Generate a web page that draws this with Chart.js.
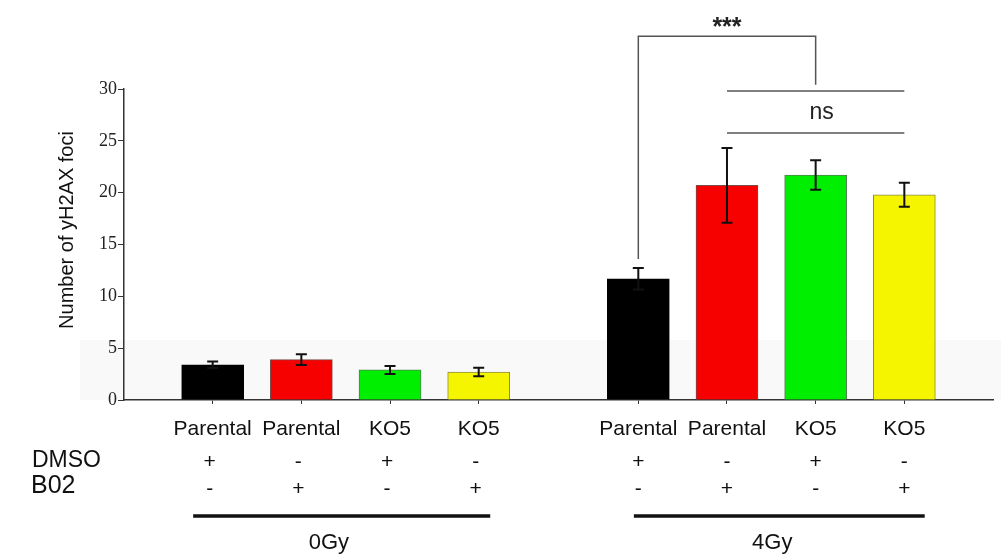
<!DOCTYPE html>
<html>
<head>
<meta charset="utf-8">
<script src="https://cdn.jsdelivr.net/npm/chart.js@4/dist/chart.umd.min.js"></script>
<style>
  html, body { margin: 0; padding: 0; background: #fff; }
  #wrap { width: 1001px; height: 557px; }
</style>
</head>
<body>
<div id="wrap"><canvas id="chart" width="1001" height="557"></canvas></div>
<script>
// ---- data -------------------------------------------------------------
const cellLines = ['Parental', 'Parental', 'KO5', 'KO5'];
const dmsoRow   = ['+', '-', '+', '-'];
const b02Row    = ['-', '+', '-', '+'];
const doses     = ['0Gy', '4Gy'];

// mean number of γH2AX foci and error, one value per bar
const foci0Gy = [3.4, 3.9, 2.9, 2.7];
const err0Gy  = [0.32, 0.52, 0.38, 0.41];
const foci4Gy = [11.7, 20.7, 21.7, 19.8];
const err4Gy  = [1.03, 3.6, 1.42, 1.16];

const yTickValues = [0, 5, 10, 15, 20, 25, 30];

// significance marks: bar indices (across both dose groups) and label
const sigStars = { from: 4, to: 6, label: '***' };
const sigNs    = { from: 5, to: 7, label: 'ns' };

// ---- styling / layout -------------------------------------------------
const barFill   = ['#000000', '#f70000', '#00ef00', '#f5f500'];
const barBorder = ['#000000', '#7a4a4a', '#4f7f4f', '#8a8a50'];
const GROUP_SHIFT = 4.8;            // x offset of the second dose group
const SANS  = '"Liberation Sans", Arial, sans-serif';
const SERIF = '"Liberation Serif", "Times New Roman", serif';

const means  = [...foci0Gy, ...foci4Gy];
const errors = [...err0Gy, ...err4Gy];
const xPos = doses.flatMap((d, g) => cellLines.map((c, i) => g * GROUP_SHIFT + i));
const points = means.map((v, i) => ({ x: xPos[i], y: v }));

const decorations = {
  id: 'decorations',
  beforeDraw(chart) {
    // faint grey band behind the low bars
    const { ctx } = chart;
    const y = chart.scales.y;
    ctx.save();
    ctx.fillStyle = '#f9f9f9';
    ctx.fillRect(80, y.getPixelForValue(5.8), chart.width - 80, y.getPixelForValue(0) - y.getPixelForValue(5.8));
    ctx.restore();
  },
  afterDatasetsDraw(chart) {
    // error bars
    const { ctx } = chart;
    const y = chart.scales.y;
    const meta = chart.getDatasetMeta(0);
    ctx.save();
    ctx.strokeStyle = '#111';
    ctx.lineWidth = 2;
    meta.data.forEach((bar, i) => {
      const hi = y.getPixelForValue(means[i] + errors[i]);
      const lo = y.getPixelForValue(means[i] - errors[i]);
      ctx.beginPath();
      ctx.moveTo(bar.x, hi); ctx.lineTo(bar.x, lo);
      ctx.moveTo(bar.x - 5.5, hi); ctx.lineTo(bar.x + 5.5, hi);
      ctx.moveTo(bar.x - 5.5, lo); ctx.lineTo(bar.x + 5.5, lo);
      ctx.stroke();
    });
    ctx.restore();
  },
  afterDraw(chart) {
    const { ctx } = chart;
    const x = chart.scales.x, y = chart.scales.y;
    const px = v => x.getPixelForValue(v);
    const py = v => y.getPixelForValue(v);
    ctx.save();

    // y-axis title
    ctx.save();
    ctx.translate(67, 230);
    ctx.rotate(-Math.PI / 2);
    ctx.fillStyle = '#111';
    ctx.font = '20px ' + SANS;
    ctx.textAlign = 'center';
    ctx.textBaseline = 'middle';
    ctx.fillText('Number of yH2AX foci', 0, 0);
    ctx.restore();

    // treatment rows
    ctx.fillStyle = '#111';
    ctx.textBaseline = 'middle';
    ctx.textAlign = 'left';
    ctx.font = '23px ' + SANS;
    ctx.fillText('DMSO', 32, 461);
    ctx.font = '25px ' + SANS;
    ctx.fillText('B02', 31, 486);

    ctx.textAlign = 'center';
    ctx.font = '21px ' + SANS;
    xPos.forEach((v, i) => {
      const k = i % cellLines.length;
      const cx = px(v) - (i < cellLines.length ? 3 : 0);
      ctx.fillText(dmsoRow[k], cx, 462);
      ctx.fillText(b02Row[k], cx, 489);
    });

    // dose group underlines and labels
    const groupSpan = [[-0.22, 3.13], [4.75, 8.03]];
    const groupLabelX = [1.31, 6.31];
    ctx.strokeStyle = '#111';
    ctx.lineWidth = 3.5;
    doses.forEach((d, g) => {
      ctx.beginPath();
      ctx.moveTo(px(groupSpan[g][0]), 516);
      ctx.lineTo(px(groupSpan[g][1]), 516);
      ctx.stroke();
      ctx.font = '22px ' + SANS;
      ctx.textBaseline = 'alphabetic';
      ctx.fillText(d, px(groupLabelX[g]), 549);
    });

    // significance brackets
    ctx.strokeStyle = '#555';
    ctx.lineWidth = 1.5;
    const a = px(xPos[sigStars.from]), b = px(xPos[sigStars.to]);
    ctx.beginPath();
    ctx.moveTo(a, py(13.6)); ctx.lineTo(a, py(35.1)); ctx.lineTo(b, py(35.1)); ctx.lineTo(b, py(30.4));
    ctx.stroke();
    ctx.fillStyle = '#222';
    ctx.font = 'bold 25px ' + SANS;
    ctx.textBaseline = 'alphabetic';
    ctx.fillText(sigStars.label, (a + b) / 2, 35);

    const c = px(xPos[sigNs.from]), d = px(xPos[sigNs.to]);
    ctx.beginPath();
    ctx.moveTo(c, py(29.8)); ctx.lineTo(d, py(29.8));
    ctx.moveTo(c, py(25.75)); ctx.lineTo(d, py(25.75));
    ctx.stroke();
    ctx.font = '23px ' + SANS;
    ctx.textBaseline = 'middle';
    ctx.fillText(sigNs.label, (c + d) / 2 + 6, py(27.7));

    ctx.restore();
  }
};

new Chart(document.getElementById('chart'), {
  type: 'bar',
  data: {
    datasets: [{
      data: points,
      backgroundColor: barFill.concat(barFill),
      borderColor: barBorder.concat(barBorder),
      borderWidth: 1,
      barThickness: 62
    }]
  },
  options: {
    responsive: false,
    animation: false,
    layout: { padding: { top: 89, right: 8, left: 0, bottom: 0 } },
    plugins: { legend: { display: false }, tooltip: { enabled: false } },
    scales: {
      x: {
        type: 'linear',
        min: -1,
        max: 8.8,
        offset: false,
        afterBuildTicks: s => { s.ticks = xPos.map(v => ({ value: v })); },
        afterFit: s => { s.height = 157; },
        grid: { display: true, offset: false, drawOnChartArea: false, drawTicks: true, tickLength: 4, color: '#333', lineWidth: 1 },
        border: { display: true, color: '#333', width: 1.5 },
        ticks: {
          autoSkip: false,
          maxRotation: 0,
          padding: 13,
          color: '#111',
          font: { family: SANS, size: 21 },
          callback: (v, i) => cellLines[i % cellLines.length]
        }
      },
      y: {
        min: 0,
        max: 30,
        afterBuildTicks: s => { s.ticks = yTickValues.map(v => ({ value: v })); },
        afterFit: s => { s.width = 124; },
        grid: { display: true, drawOnChartArea: false, drawTicks: true, tickLength: 6, color: '#333', lineWidth: 1 },
        border: { display: true, color: '#333', width: 1.5 },
        ticks: { padding: 1, color: '#222', font: { family: SERIF, size: 18 } }
      }
    }
  },
  plugins: [decorations]
});
</script>
</body>
</html>
